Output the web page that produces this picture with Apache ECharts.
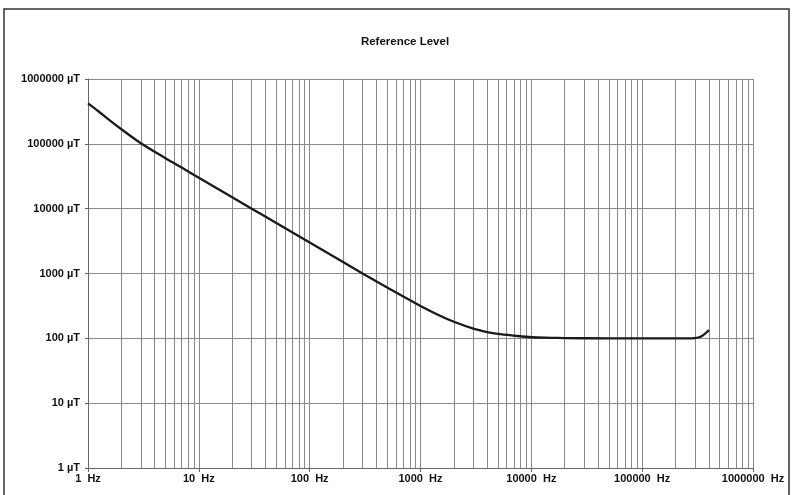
<!DOCTYPE html>
<html>
<head>
<meta charset="utf-8">
<script src="https://cdn.jsdelivr.net/npm/echarts@6/dist/echarts.min.js"></script>
<style>
html,body{margin:0;padding:0;background:#fff;}
#c{width:792px;height:495px;}
</style>
</head>
<body>
<div id="c"></div>
<script>
// Data
const titleText = 'Reference Level';
const freqsHz = [1, 1.25, 1.5, 2, 3, 5, 7, 10, 20, 30, 50, 100, 200, 300, 500, 1000, 1500, 2000, 3000, 4000, 5000, 7000, 10000, 15000, 20000, 50000, 100000, 200000, 280000, 320000, 350000, 380000, 400000];
const levelsUT = [420000, 315000, 245000, 168000, 102000, 60000, 43000, 30000, 15000, 10000, 6000, 3000, 1500, 1000, 610, 316, 223, 180, 141, 125, 117, 110, 104, 102, 101, 100, 100, 100, 100, 103, 110, 123, 135];
const xTickValues = [1, 10, 100, 1000, 10000, 100000, 1000000];
const yTickValues = [1, 10, 100, 1000, 10000, 100000, 1000000];
const xUnit = 'Hz';
const yUnit = 'µT';

// minor vertical gridline positions (2..9 per decade)
const minorGrid = [];
for (let d = 1; d < 1000000; d *= 10) {
  for (let m = 2; m <= 9; m++) minorGrid.push(m * d);
}

const fontFam = '"Liberation Sans", Arial, sans-serif';
const gridColor = '#8a8a8a';

const chart = echarts.init(document.getElementById('c'), null, {renderer: 'canvas'});
chart.setOption({
  animation: false,
  backgroundColor: '#fff',
  title: {
    text: titleText,
    left: 400, top: 31, textAlign: 'center',
    textStyle: {fontFamily: fontFam, fontSize: 11.5, fontWeight: 'bold', color: '#111'}
  },
  graphic: [{
    type: 'rect', silent: true, z: -1,
    shape: {x: 4, y: 9, width: 785, height: 520},
    style: {fill: 'none', stroke: '#333', lineWidth: 1.5}
  }],
  grid: {left: 88, right: 39, top: 79, bottom: 27, containLabel: false},
  xAxis: {
    type: 'log', logBase: 10, min: xTickValues[0], max: xTickValues[xTickValues.length - 1],
    axisLine: {show: true, onZero: false, lineStyle: {color: '#666', width: 1}},
    axisTick: {show: true, length: 4, lineStyle: {color: '#666'}},
    axisLabel: {
      margin: 5, fontFamily: fontFam, fontSize: 11, fontWeight: 'bold', color: '#111',
      formatter: v => Math.round(v) + '  ' + xUnit
    },
    splitLine: {show: true, lineStyle: {color: gridColor, width: 1}},
    minorTick: {show: false}, minorSplitLine: {show: false}
  },
  yAxis: {
    type: 'log', logBase: 10, min: yTickValues[0], max: yTickValues[yTickValues.length - 1],
    axisLine: {show: true, lineStyle: {color: '#666', width: 1}},
    axisTick: {show: true, length: 3, lineStyle: {color: '#666'}},
    axisLabel: {
      margin: 8, fontFamily: fontFam, fontSize: 11, fontWeight: 'bold', color: '#111',
      formatter: v => Math.round(v) + ' ' + yUnit
    },
    splitLine: {show: true, lineStyle: {color: gridColor, width: 1}}
  },
  series: [{
    type: 'line',
    data: freqsHz.map((f, i) => [f, levelsUT[i]]),
    showSymbol: false,
    smooth: 0.3,
    lineStyle: {color: '#1a1a1a', width: 2.3},
    z: 5,
    markLine: {
      silent: true,
      symbol: ['none', 'none'],
      label: {show: false},
      lineStyle: {color: gridColor, width: 1, type: 'solid'},
      emphasis: {disabled: true},
      data: minorGrid.map(v => ({xAxis: v}))
    }
  }]
});
</script>
</body>
</html>
